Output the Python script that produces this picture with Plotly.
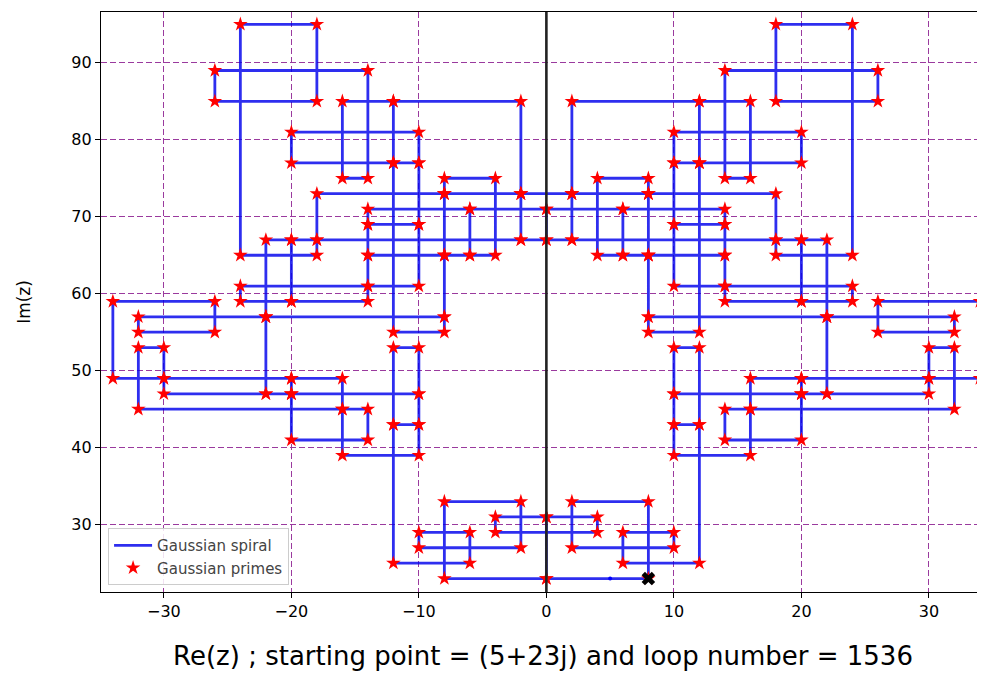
import plotly.graph_objects as go

# ---- data: turning points (Gaussian primes) of the spiral, in path order ----
# east part, beginning at the starting point 5+23j
east_re = [5, 8, 8, 2, 2, 10, 10, 6, 6, 12, 12, 10, 10, 16, 16, 14, 14, 20, 20, 10, 10, 12, 12, 10, 10,
           20, 20, 16, 16, 32, 32, 30, 30, 34, 34, 26, 26, 32, 32, 22, 22, 30, 30, 20, 20, 22, 22, 8, 8,
           12, 12, 10, 10, 14, 14, 6, 6, 8, 8, 2, 2, 18, 18, 8, 8, 14, 14, 10, 10, 14, 14, 8, 8, 22, 22,
           20, 20, 24, 24, 14, 14, 20, 20, 18, 18, 24, 24, 18, 18, 26, 26, 14, 14, 16, 16, 12, 12, 20, 20,
           10, 10, 12, 12, 2, 2, 8, 8, 4, 4, 6, 6, 0, 0, 2, 2]
east_im = [23, 23, 33, 33, 27, 27, 29, 29, 25, 25, 43, 43, 39, 39, 45, 45, 41, 41, 47, 47, 43, 43, 53, 53,
           47, 47, 49, 49, 45, 45, 53, 53, 49, 49, 59, 59, 55, 55, 57, 57, 47, 47, 49, 49, 47, 47, 57, 57,
           55, 55, 77, 77, 69, 69, 71, 71, 65, 65, 73, 73, 67, 67, 73, 73, 65, 65, 69, 69, 61, 61, 65, 65,
           57, 57, 67, 67, 59, 59, 61, 61, 59, 59, 67, 67, 65, 65, 95, 95, 85, 85, 89, 89, 75, 75, 85, 85,
           77, 77, 81, 81, 77, 77, 85, 85, 73, 73, 75, 75, 65, 65, 71, 71, 67, 67, 73]
# west part
west_re = [-2, -2, 0, 0, -6, -6, -4, -4, -8, -8, -2, -2, -12, -12, -10, -10, -20, -20, -12, -12, -16, -16,
           -14, -14, -26, -26, -18, -18, -24, -24, -18, -18, -20, -20, -14, -14, -24, -24, -20, -20, -22,
           -22, -8, -8, -14, -14, -10, -10, -14, -14, -8, -8, -18, -18, -2, -2, -8, -8, -6, -6, -14, -14,
           -10, -10, -12, -12, -8, -8, -22, -22, -20, -20, -30, -30, -22, -22, -32, -32, -26, -26, -34,
           -34, -30, -30, -32, -32, -16, -16, -20, -20, -10, -10, -12, -12, -10, -10, -20, -20, -14, -14,
           -16, -16, -10, -10, -12, -12, -6, -6, -10, -10, -2, -2, -8, -8]
west_im = [73, 67, 67, 71, 71, 65, 65, 75, 75, 73, 73, 85, 85, 77, 77, 81, 81, 77, 77, 85, 85, 75, 75, 89,
           89, 85, 85, 95, 95, 65, 65, 67, 67, 59, 59, 61, 61, 59, 59, 67, 67, 57, 57, 65, 65, 61, 61, 69,
           69, 65, 65, 73, 73, 67, 67, 73, 73, 65, 65, 71, 71, 69, 69, 77, 77, 55, 55, 57, 57, 47, 47, 49,
           49, 47, 47, 57, 57, 55, 55, 59, 59, 49, 49, 53, 53, 45, 45, 49, 49, 47, 47, 53, 53, 43, 43, 47,
           47, 41, 41, 45, 45, 39, 39, 43, 43, 25, 25, 29, 29, 27, 27, 33, 33, 23]
# central part, closing the loop back at the starting point
center_re = [0, 0, -4, -4, 4, 4, 0, 0, 5]
center_im = [23, 31, 31, 29, 29, 31, 31, 23, 23]

start_point = (5, 23)
mark_point = (8, 23)

x_ticks = [-30, -20, -10, 0, 10, 20, 30]
x_tick_text = ["\u221230", "\u221220", "\u221210", "0", "10", "20", "30"]
y_ticks = [30, 40, 50, 60, 70, 80, 90]
y_tick_text = ["30", "40", "50", "60", "70", "80", "90"]

x_title = "Re(z) ; starting point = (5+23j) and loop number = 1536"
y_title = "Im(z)"

spiral_re = east_re + west_re + center_re
spiral_im = east_im + west_im + center_im
prime_re = spiral_re[1:-1]
prime_im = spiral_im[1:-1]

FONT = "DejaVu Sans"

fig = go.Figure()
fig.add_trace(go.Scatter(
    x=spiral_re, y=spiral_im, mode="lines", name="Gaussian spiral",
    line=dict(color="rgba(0,0,235,0.82)", width=2.8),
))
fig.add_trace(go.Scatter(
    x=prime_re, y=prime_im, mode="markers", name="Gaussian primes",
    marker=dict(symbol="star", size=11, color="red", line=dict(width=0)),
))
fig.add_trace(go.Scatter(
    x=[start_point[0]], y=[start_point[1]], mode="markers", showlegend=False,
    marker=dict(symbol="circle", size=4, color="blue"),
))
fig.add_trace(go.Scatter(
    x=[mark_point[0]], y=[mark_point[1]], mode="markers", showlegend=False,
    marker=dict(symbol="x", size=12, color="black", line=dict(width=0)),
))

fig.add_shape(type="line", xref="x", yref="paper", x0=0, x1=0, y0=0, y1=1,
              line=dict(color="#222222", width=2.6), layer="above")

grid = dict(showgrid=True, gridcolor="#9a3a9e", gridwidth=1.3, griddash="6px,3px")

# the page body adds an 8px offset, so the figure is made 8px smaller
fig.update_layout(
    width=977, height=669, autosize=False,
    margin=dict(l=93, r=0, t=4, b=85),
    paper_bgcolor="white", plot_bgcolor="white",
    font=dict(family=FONT, color="black"),
    xaxis=dict(range=[-34.93, 34.4], tickvals=x_ticks, ticktext=x_tick_text,
               ticks="outside", ticklen=5, tickwidth=1.2, tickcolor="black",
               showline=True, linecolor="black", linewidth=1.3, mirror=True,
               zeroline=False, tickfont=dict(size=16, family=FONT),
               title=dict(text=x_title, font=dict(size=26, family=FONT), standoff=26),
               **grid),
    yaxis=dict(range=[21.25, 96.6], tickvals=y_ticks, ticktext=y_tick_text,
               ticks="outside", ticklen=5, tickwidth=1.2, tickcolor="black",
               showline=True, linecolor="black", linewidth=1.3, mirror=False,
               zeroline=False, tickfont=dict(size=16, family=FONT),
               title=dict(text=y_title, font=dict(size=17, family=FONT), standoff=36),
               **grid),
    legend=dict(x=0.008, y=0.012, xanchor="left", yanchor="bottom",
                bgcolor="rgba(255,255,255,0.85)", bordercolor="#cccccc", borderwidth=1,
                font=dict(size=15, family=FONT, color="#444444"),
                tracegroupgap=0, itemwidth=38),
    showlegend=True,
)

fig.write_html("out.html")
